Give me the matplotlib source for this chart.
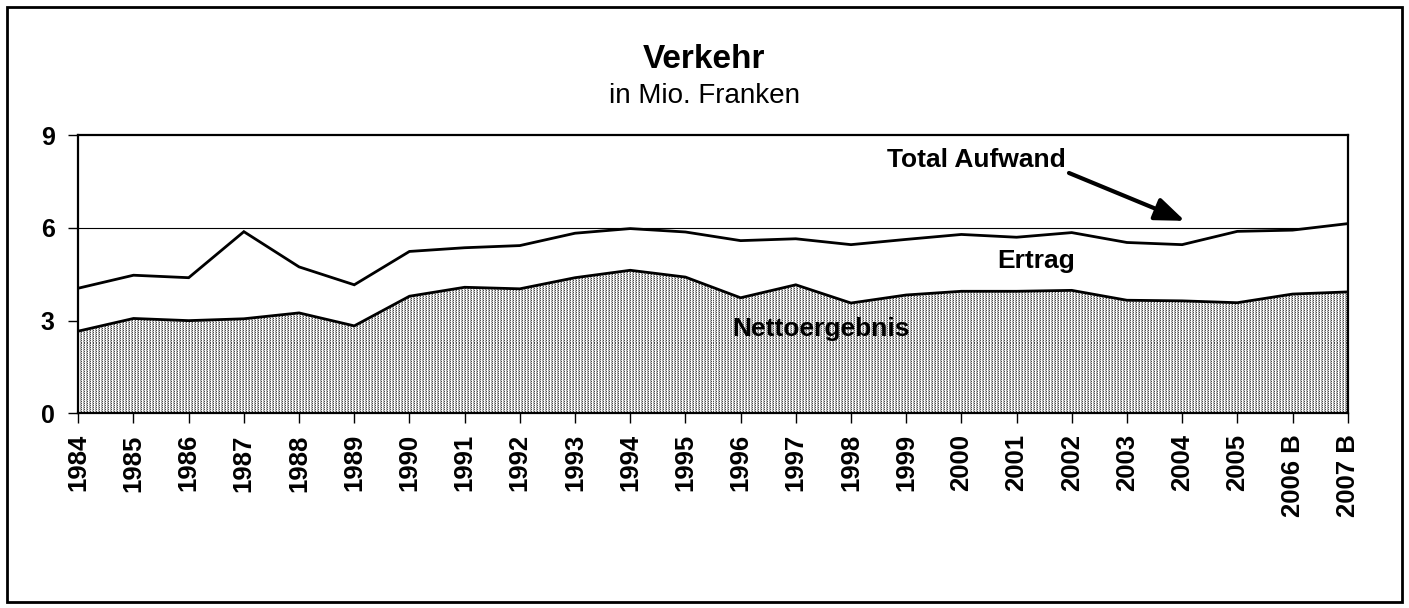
import numpy as np
import matplotlib
matplotlib.use("Agg")
import matplotlib.pyplot as plt
from matplotlib.patches import Rectangle, FancyArrowPatch

plt.rcParams['font.family'] = ['Liberation Sans', 'DejaVu Sans']

years = ['1984', '1985', '1986', '1987', '1988', '1989', '1990', '1991', '1992',
         '1993', '1994', '1995', '1996', '1997', '1998', '1999', '2000', '2001',
         '2002', '2003', '2004', '2005', '2006 B', '2007 B']
total_aufwand = [4.05, 4.47, 4.39, 5.88, 4.74, 4.16, 5.24, 5.36, 5.43, 5.83, 5.98, 5.87,
                 5.59, 5.65, 5.46, 5.63, 5.79, 5.70, 5.85, 5.53, 5.46, 5.89, 5.93, 6.14]
nettoergebnis = [2.66, 3.07, 3.00, 3.06, 3.25, 2.83, 3.79, 4.08, 4.03, 4.39, 4.63, 4.41,
                 3.74, 4.16, 3.57, 3.83, 3.95, 3.95, 3.98, 3.66, 3.64, 3.58, 3.86, 3.93]
yticks = [0, 3, 6, 9]

W, H = 1409, 608
fig = plt.figure(figsize=(W / 100, H / 100), dpi=100)
L, R, B, T = 78.3, 1347.7, 413.3, 135.3
ax = fig.add_axes([L / W, 1 - B / H, (R - L) / W, (B - T) / H])

x = np.arange(len(years))
ax.set_xlim(0, len(years) - 1)
ax.set_ylim(0, 9)

# gridlines (hidden behind opaque areas as in the original)
for yv in yticks[1:3]:
    ax.axhline(yv, color='black', lw=0.8, zorder=1)

# Ertrag area (white, opaque)
ax.fill_between(x, nettoergebnis, total_aufwand, facecolor='white', edgecolor='none', zorder=2)

# Nettoergebnis textured area
poly = ax.fill_between(x, 0, nettoergebnis, facecolor='#c4c4c4', edgecolor='none', zorder=3)
pw, ph = int(R - L) + 2, int(B - T) + 2
tile = np.array([[0.30, 1.0, 0.78],
                 [0.80, 1.0, 0.60]])
tex = np.tile(tile, (ph // 2 + 1, pw // 3 + 1))[:ph, :pw]
im = ax.imshow(tex, cmap='gray', vmin=0, vmax=1, interpolation='nearest',
               extent=[0, len(years) - 1, 0, 9], aspect='auto', zorder=4)
im.set_clip_path(poly.get_paths()[0], transform=ax.transData)

# lines
ax.plot(x, total_aufwand, color='black', lw=2.0, zorder=5, solid_joinstyle='miter')
ax.plot(x, nettoergebnis, color='black', lw=2.0, zorder=5, solid_joinstyle='miter')

for s in ax.spines.values():
    s.set_linewidth(1.6)
    s.set_zorder(6)

ax.set_yticks(yticks)
ax.set_yticklabels([str(v) for v in yticks], fontsize=18, fontweight='bold')
ax.set_xticks(x)
ax.set_xticklabels(years, rotation=90, fontsize=18.5, fontweight='bold')
ax.tick_params(axis='x', direction='out', length=7, width=1, pad=8)
ax.tick_params(axis='y', direction='out', length=7, width=1, pad=10)

txt = dict(fontsize=19, fontweight='bold', ha='center', va='baseline', zorder=7)
ax.text(16.28, 7.97, 'Total Aufwand', **txt)
ax.text(17.35, 4.70, 'Ertrag', **txt)
ax.text(13.46, 2.50, 'Nettoergebnis', **txt)

arrow = FancyArrowPatch((17.95, 7.78), (20.05, 6.23), arrowstyle='-|>,head_length=18,head_width=7',
                        color='black', lw=3.0, mutation_scale=1, shrinkA=0, shrinkB=0, zorder=7)
ax.add_patch(arrow)

fig.text(0.5, 1 - 68 / H, 'Verkehr', fontsize=24, fontweight='bold', ha='center', va='baseline')
fig.text(0.5, 1 - 103 / H, 'in Mio. Franken', fontsize=20, ha='center', va='baseline')

fig.patches.append(Rectangle((7 / W, 6 / H), (1402 - 7) / W, (602 - 7) / H, transform=fig.transFigure,
                             fill=False, edgecolor='black', lw=2.0, figure=fig))

fig.savefig('out.png', dpi=100)
